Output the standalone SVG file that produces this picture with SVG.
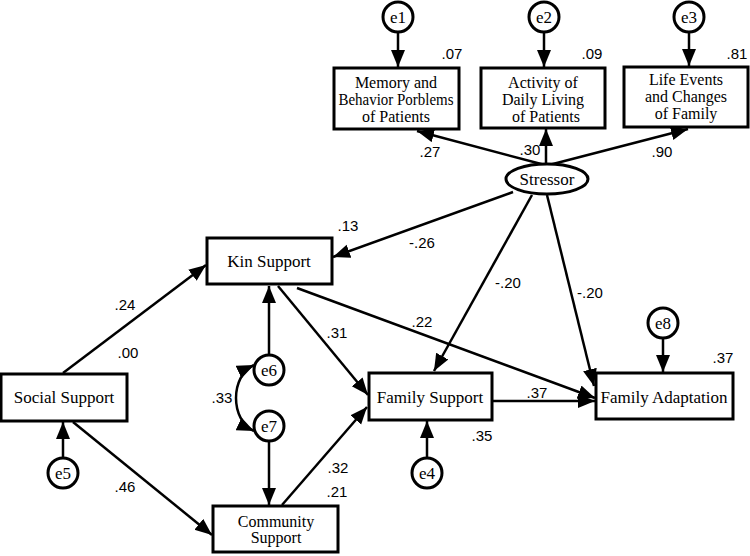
<svg xmlns="http://www.w3.org/2000/svg" width="750" height="556" viewBox="0 0 750 556">
<style>
.box{fill:#fff;stroke:#000;stroke-width:3}
.err{fill:#fff;stroke:#000;stroke-width:3}
.lbl{font-family:"Liberation Serif","Times New Roman",serif;font-size:17px;fill:#000;text-anchor:middle}
.ml{font-size:16px}
.num{font-family:"Liberation Sans",Arial,sans-serif;font-size:15px;fill:#000;text-anchor:middle}
.ln{stroke:#000;stroke-width:2.5;fill:none;marker-end:url(#ah)}
</style>
<defs>
<marker id="ah" markerUnits="userSpaceOnUse" markerWidth="20" markerHeight="16" refX="17" refY="7" orient="auto-start-reverse">
<path d="M0,0 L17,7 L0,14 z" fill="#000"/>
</marker>
</defs>
<rect width="750" height="556" fill="#fff"/>
<g id="connectors">
<line class="ln" x1="398" y1="33" x2="398" y2="67"/>
<line class="ln" x1="544" y1="33" x2="544" y2="67"/>
<line class="ln" x1="689" y1="33" x2="689" y2="66"/>
<line class="ln" x1="545" y1="165" x2="417" y2="131"/>
<line class="ln" x1="546" y1="165" x2="546" y2="129"/>
<line class="ln" x1="549" y1="165" x2="688" y2="129"/>
<line class="ln" x1="513" y1="192" x2="333" y2="257"/>
<line class="ln" x1="532" y1="195" x2="434" y2="371"/>
<line class="ln" x1="547" y1="195" x2="594" y2="386"/>
<line class="ln" x1="63" y1="373" x2="206" y2="265"/>
<line class="ln" x1="73" y1="422" x2="212" y2="535"/>
<line class="ln" x1="63" y1="458" x2="63" y2="422"/>
<line class="ln" x1="269" y1="355" x2="269" y2="286"/>
<line class="ln" x1="269" y1="442" x2="269" y2="505"/>
<path class="ln" d="M254,365 C230,376 230,420 254,431" style="marker-start:url(#ah)"/>
<line class="ln" x1="278" y1="286" x2="368" y2="395"/>
<line class="ln" x1="297" y1="288" x2="595" y2="398"/>
<line class="ln" x1="282" y1="505" x2="367" y2="407"/>
<line class="ln" x1="492" y1="401" x2="595" y2="401"/>
<line class="ln" x1="427" y1="458" x2="427" y2="421"/>
<line class="ln" x1="663" y1="339" x2="663" y2="372"/>
</g>
<g id="e1"><circle class="err" cx="398" cy="17" r="15"/><text class="lbl" x="398" y="23">e1</text></g>
<g id="e2"><circle class="err" cx="544" cy="17" r="15"/><text class="lbl" x="544" y="23">e2</text></g>
<g id="e3"><circle class="err" cx="689" cy="17" r="15"/><text class="lbl" x="689" y="23">e3</text></g>
<g id="memory"><rect class="box" x="334" y="68" width="125" height="61"/>
<text class="lbl ml" x="396" y="88">Memory and</text>
<text class="lbl ml" x="396" y="105" textLength="115" lengthAdjust="spacingAndGlyphs">Behavior Porblems</text>
<text class="lbl ml" x="396" y="122">of Patients</text>
<text class="num" x="452" y="59">.07</text></g>
<g id="activity"><rect class="box" x="481" y="68" width="124" height="60"/>
<text class="lbl ml" x="543" y="88">Activity of</text>
<text class="lbl ml" x="543" y="105">Daily Living</text>
<text class="lbl ml" x="546" y="122">of Patients</text>
<text class="num" x="592" y="59">.09</text></g>
<g id="life"><rect class="box" x="624" y="67" width="124" height="60"/>
<text class="lbl ml" x="686" y="85">Life Events</text>
<text class="lbl ml" x="686" y="102">and Changes</text>
<text class="lbl ml" x="686" y="119">of Family</text>
<text class="num" x="737" y="59">.81</text></g>
<g id="stressor"><ellipse class="err" cx="547" cy="179" rx="41" ry="15"/><text class="lbl" x="547" y="185">Stressor</text>
<text class="num" x="430" y="157">.27</text>
<text class="num" x="530" y="155">.30</text>
<text class="num" x="662" y="157">.90</text></g>
<g id="kin"><rect class="box" x="207" y="238" width="125" height="46"/><text class="lbl" x="269" y="267">Kin Support</text>
<text class="num" x="348" y="231">.13</text></g>
<g id="social"><rect class="box" x="1" y="374" width="126" height="47"/><text class="lbl" x="64" y="403">Social Support</text>
<text class="num" x="128" y="358">.00</text></g>
<g id="community"><rect class="box" x="213" y="506" width="125" height="46"/>
<text class="lbl ml" x="276" y="527">Community</text>
<text class="lbl ml" x="276" y="543">Support</text>
<text class="num" x="337" y="497">.21</text></g>
<g id="familysupport"><rect class="box" x="369" y="373" width="123" height="47"/><text class="lbl" x="430" y="403">Family Support</text>
<text class="num" x="482" y="441">.35</text></g>
<g id="familyadaptation"><rect class="box" x="596" y="373" width="137" height="46"/><text class="lbl" x="664" y="403">Family Adaptation</text>
<text class="num" x="723" y="363">.37</text></g>
<g id="e4"><circle class="err" cx="427" cy="473" r="15"/><text class="lbl" x="427" y="479">e4</text></g>
<g id="e5"><circle class="err" cx="63" cy="473" r="15"/><text class="lbl" x="63" y="479">e5</text></g>
<g id="e6"><circle class="err" cx="269" cy="370" r="15"/><text class="lbl" x="269" y="376">e6</text></g>
<g id="e7"><circle class="err" cx="269" cy="426" r="15"/><text class="lbl" x="269" y="432">e7</text></g>
<g id="e8"><circle class="err" cx="663" cy="323" r="15"/><text class="lbl" x="663" y="329">e8</text></g>
<g id="labels">
<text class="num" x="422" y="248">-.26</text>
<text class="num" x="508" y="288">-.20</text>
<text class="num" x="590" y="298">-.20</text>
<text class="num" x="422" y="327">.22</text>
<text class="num" x="537" y="398">.37</text>
<text class="num" x="125" y="310">.24</text>
<text class="num" x="337" y="338">.31</text>
<text class="num" x="222" y="403">.33</text>
<text class="num" x="125" y="492">.46</text>
<text class="num" x="338" y="473">.32</text>
</g>
</svg>
